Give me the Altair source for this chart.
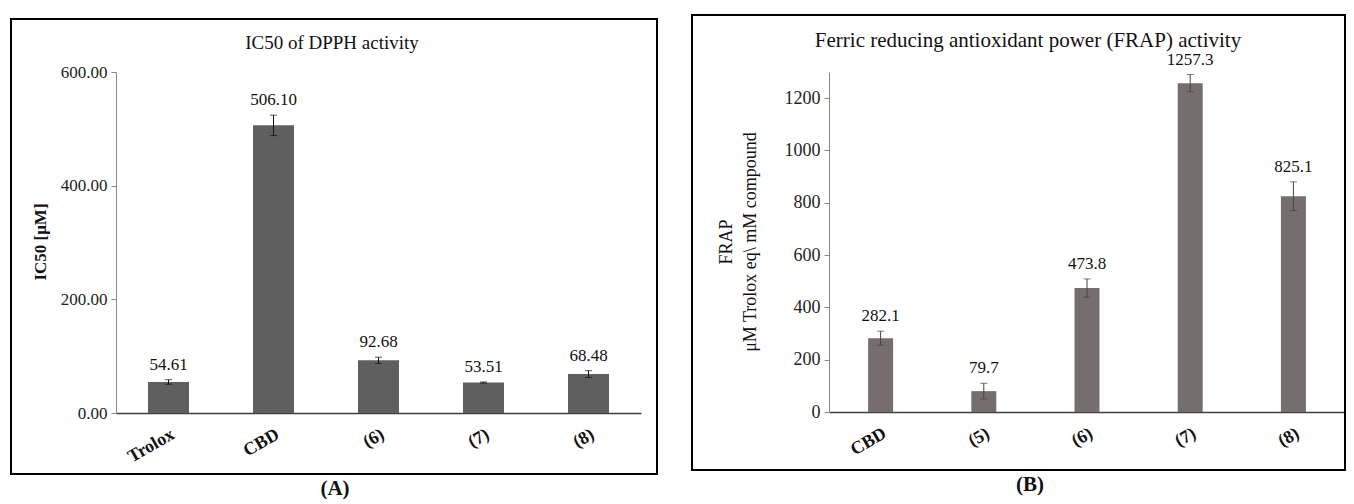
import altair as alt
import pandas as pd

# ---- data ----
a_cats = ["Trolox", "CBD", "(6)", "(7)", "(8)"]
a_vals = [54.61, 506.10, 92.68, 53.51, 68.48]
a_errs = [4.0, 18.0, 5.5, 1.0, 6.0]
a_ticks = [0, 200, 400, 600]

b_cats = ["CBD", "(5)", "(6)", "(7)", "(8)"]
b_vals = [282.1, 79.7, 473.8, 1257.3, 825.1]
b_errs = [27.0, 30.0, 35.0, 33.0, 55.0]
b_ticks = [0, 200, 400, 600, 800, 1000, 1200]

a_title = "IC50 of DPPH activity"
b_title = "Ferric reducing antioxidant power (FRAP) activity"
a_ytitle = "IC50 [μM]"
b_ytitle1 = "FRAP"
b_ytitle2 = "μM Trolox eq\\ mM compound"

FONT = "Liberation Serif"


def note(text, x, y, size=16, weight="normal", angle=0, baseline="middle", align="center"):
    one = pd.DataFrame({"t": [text]})
    return alt.Chart(one).mark_text(
        font=FONT, fontSize=size, fontWeight=weight, angle=angle,
        baseline=baseline, align=align, color="#111"
    ).encode(x=alt.value(x), y=alt.value(y), text="t:N")


def frame(x1, x2, y1, y2):
    one = pd.DataFrame({"t": [0]})
    return alt.Chart(one).mark_rect(
        fillOpacity=0, stroke="black", strokeWidth=2
    ).encode(x=alt.value(x1), x2=alt.value(x2), y=alt.value(y1), y2=alt.value(y2))


def panel(cats, vals, errs, ticks, ymax, valfmt, tickfmt, color, errcolor, barsize,
          tickfs, valfs):
    df = pd.DataFrame({"cat": cats, "val": vals, "err": errs})
    df["lo"] = df["val"] - df["err"]
    df["hi"] = df["val"] + df["err"]
    xaxis = alt.Axis(
        title=None, labelAngle=-30, labelFontWeight="bold", labelFontSize=18,
        labelFont=FONT, labelColor="#111", ticks=False, labelPadding=12,
        domainColor="#404040", domainWidth=1.5, labelAlign="right", labelBaseline="top",
    )
    yaxis = alt.Axis(
        title=None, values=ticks, format=tickfmt, labelFontSize=tickfs, labelFont=FONT,
        labelColor="#222", tickColor="#888", tickSize=5, domainColor="#888",
        grid=False, labelPadding=4,
    )
    x = alt.X("cat:N", sort=cats, scale=alt.Scale(paddingInner=0, paddingOuter=0), axis=xaxis)
    xc = alt.X("cat:N", sort=cats, bandPosition=0.5)
    y = alt.Y("val:Q", scale=alt.Scale(domain=[0, ymax], nice=False), axis=yaxis)
    base = alt.Chart(df)
    bars = base.mark_bar(size=barsize, color=color).encode(x=x, y=y)
    rule = base.mark_rule(color=errcolor, strokeWidth=1).encode(
        x=xc, y=alt.Y("lo:Q", title=None), y2="hi:Q")
    cap_lo = base.mark_tick(color=errcolor, size=7, thickness=1).encode(
        x=xc, y=alt.Y("lo:Q", title=None))
    cap_hi = base.mark_tick(color=errcolor, size=7, thickness=1).encode(
        x=xc, y=alt.Y("hi:Q", title=None))
    labels = base.mark_text(dy=-6, baseline="bottom", fontSize=valfs, font=FONT, color="#111").encode(
        x=xc, y=alt.Y("hi:Q", title=None), text=alt.Text("val:Q", format=valfmt))
    return [bars, rule, cap_lo, cap_hi, labels]


pa = alt.layer(
    *panel(a_cats, a_vals, a_errs, a_ticks, 600, ".2f", ".2f", "#5f5f5f", "#111", 41, 17, 17),
    frame(-105, 541, -53, 402),
    note(a_title, 216, -23, size=19, baseline="alphabetic"),
    note(a_ytitle, -75, 170, size=17, weight="bold", angle=270),
    note("(A)", 219, 417, size=21, weight="bold"),
).properties(width=525, height=341)

pb = alt.layer(
    *panel(b_cats, b_vals, b_errs, b_ticks, 1300, ".1f", "d", "#766e6e", "#444", 25, 18, 17),
    frame(-137, 516, -57, 398),
    note(b_title, 199, -25, size=21, baseline="alphabetic"),
    note(b_ytitle1, -102, 170, size=18, angle=270),
    note(b_ytitle2, -78, 170, size=18, angle=270),
    note("(B)", 201, 413, size=21, weight="bold"),
).properties(width=516, height=340)

chart = alt.hconcat(pa, pb, spacing=33).properties(
    padding={"left": 2, "top": 6, "right": 0, "bottom": 0}
).configure_view(stroke=None)

chart.save("out.html", embed_options={"renderer": "svg", "actions": False})
